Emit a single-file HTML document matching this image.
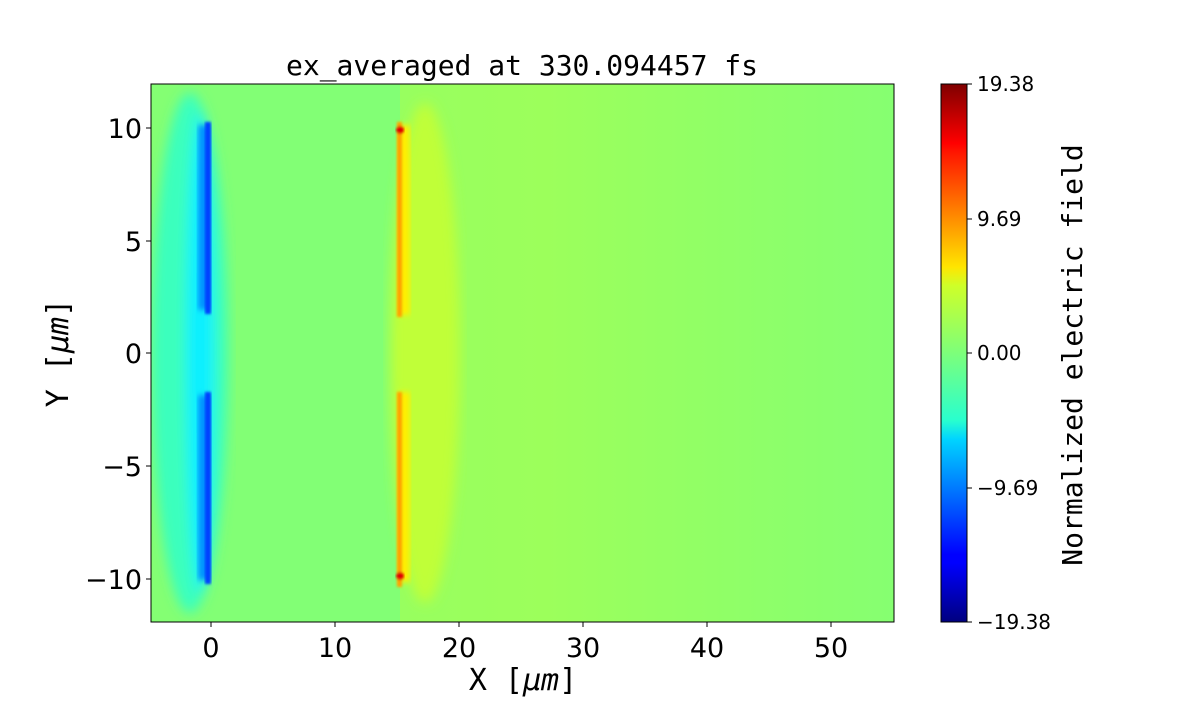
<!DOCTYPE html>
<html><head><style>
body{margin:0;background:#fff;}
svg text{font-family:"DejaVu Sans","Liberation Sans",sans-serif;}
.mono{font-family:"DejaVu Sans Mono","Liberation Mono",monospace;}
</style></head><body>
<svg width="1200" height="700" xmlns="http://www.w3.org/2000/svg">
<defs>
<clipPath id="pc"><rect x="151" y="84" width="743" height="538"/></clipPath>
<filter id="b6"><feGaussianBlur stdDeviation="6"/></filter>
<filter id="b3"><feGaussianBlur stdDeviation="3"/></filter>
<filter id="b1"><feGaussianBlur stdDeviation="1.2"/></filter>
<linearGradient id="rg" x1="0" x2="1" y1="0" y2="0">
<stop offset="0" stop-color="#98ff5f"/><stop offset="0.3" stop-color="#9cff5b"/><stop offset="0.6" stop-color="#92ff65"/><stop offset="1" stop-color="#86ff71"/>
</linearGradient>
<linearGradient id="jet" x1="0" x2="0" y1="1" y2="0">
<stop offset="0" stop-color="#00007f"/><stop offset="0.11" stop-color="#0000ff"/><stop offset="0.125" stop-color="#0000ff"/><stop offset="0.34" stop-color="#00d4ff"/><stop offset="0.375" stop-color="#29ffce"/><stop offset="0.5" stop-color="#7dff7a"/><stop offset="0.625" stop-color="#ceff29"/><stop offset="0.66" stop-color="#ffe500"/><stop offset="0.875" stop-color="#ff1400"/><stop offset="0.89" stop-color="#ff0000"/><stop offset="1" stop-color="#7f0000"/>
</linearGradient>
</defs>
<g clip-path="url(#pc)">
<rect x="151" y="84" width="743" height="538" fill="#84ff73"/>
<rect x="398" y="84" width="496" height="538" fill="url(#rg)"/>
<rect x="210" y="84" width="190" height="538" fill="#82ff75"/>
<g filter="url(#b6)">
<ellipse cx="190" cy="353" rx="38" ry="260" fill="#3affbd"/>
<ellipse cx="200" cy="353" rx="14" ry="240" fill="#10f0ff"/>
</g>
<g filter="url(#b3)">
<rect x="198" y="125" width="12" height="185" fill="#0090ff"/>
<rect x="198" y="395" width="12" height="185" fill="#0090ff"/>
</g>
<g filter="url(#b1)">
<rect x="205" y="122" width="6" height="192" fill="#0040ff"/>
<rect x="205" y="392" width="6" height="192" fill="#0040ff"/>
</g>
<g filter="url(#b6)">
<ellipse cx="425" cy="353" rx="35" ry="250" fill="#c0ff37"/>
</g>
<g filter="url(#b3)">
<rect x="398" y="125" width="12" height="190" fill="#ffef00"/>
<rect x="398" y="392" width="12" height="190" fill="#ffef00"/>
</g>
<g filter="url(#b1)">
<rect x="397" y="122" width="5" height="195" fill="#ffa000"/>
<rect x="397" y="392" width="5" height="195" fill="#ffa000"/>
<circle cx="400" cy="130" r="4" fill="#e00000"/>
<circle cx="400" cy="576" r="4" fill="#e00000"/>
</g>
</g>
<rect x="151" y="84" width="743" height="538" fill="none" stroke="#000" stroke-width="1"/>
<text x="522" y="75" font-size="28" text-anchor="middle" class="mono">ex_averaged at 330.094457 fs</text>
<g stroke="#000" stroke-width="1">
<line x1="211" y1="622" x2="211" y2="627"/><line x1="335" y1="622" x2="335" y2="627"/><line x1="459" y1="622" x2="459" y2="627"/><line x1="583" y1="622" x2="583" y2="627"/><line x1="707" y1="622" x2="707" y2="627"/><line x1="831" y1="622" x2="831" y2="627"/>
<line x1="146" y1="128" x2="151" y2="128"/><line x1="146" y1="241" x2="151" y2="241"/><line x1="146" y1="353" x2="151" y2="353"/><line x1="146" y1="466" x2="151" y2="466"/><line x1="146" y1="579" x2="151" y2="579"/>
</g>
<g font-size="27" text-anchor="middle">
<text x="211" y="657">0</text><text x="335" y="657">10</text><text x="459" y="657">20</text><text x="583" y="657">30</text><text x="707" y="657">40</text><text x="831" y="657">50</text>
</g>
<g font-size="27" text-anchor="end">
<text x="142" y="138">10</text><text x="142" y="251">5</text><text x="142" y="363">0</text><text x="142" y="476">−5</text><text x="142" y="589">−10</text>
</g>
<text x="523" y="690" font-size="30" text-anchor="middle" class="mono">X [<tspan font-style="italic">μm</tspan>]</text>
<text transform="translate(68,353) rotate(-90)" font-size="30" text-anchor="middle" class="mono">Y [<tspan font-style="italic">μm</tspan>]</text>
<rect x="941" y="84" width="26" height="538" fill="url(#jet)"/>
<rect x="941" y="84" width="26" height="538" fill="none" stroke="#000" stroke-width="1"/>
<g stroke="#000"><line x1="967" y1="84" x2="972" y2="84"/><line x1="967" y1="219" x2="972" y2="219"/><line x1="967" y1="353" x2="972" y2="353"/><line x1="967" y1="488" x2="972" y2="488"/><line x1="967" y1="622" x2="972" y2="622"/></g>
<g font-size="20">
<text x="977" y="91">19.38</text><text x="977" y="226">9.69</text><text x="977" y="360">0.00</text><text x="977" y="495">−9.69</text><text x="977" y="629">−19.38</text>
</g>
<text transform="translate(1082,355) rotate(-90)" font-size="28" text-anchor="middle" class="mono">Normalized electric field</text>
</svg>
</body></html>
